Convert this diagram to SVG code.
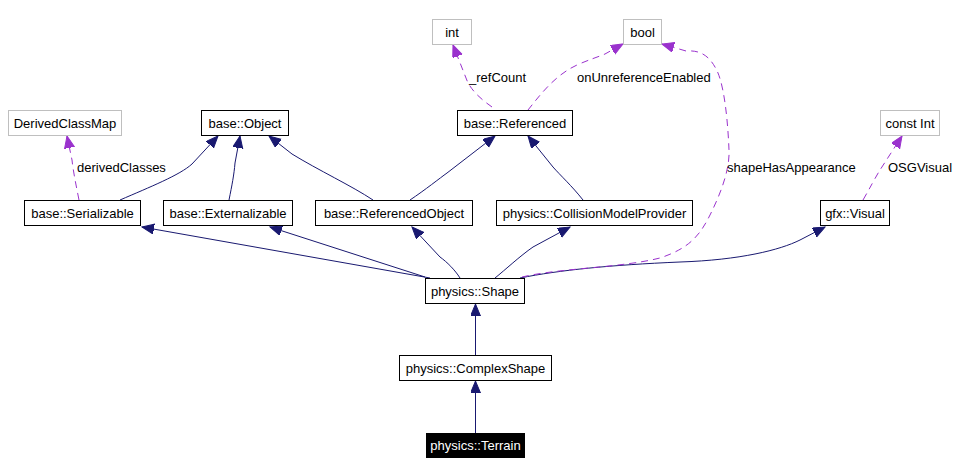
<svg xmlns="http://www.w3.org/2000/svg" width="980" height="475" viewBox="0 0 980 475">
<style>
  .box{fill:#fff;stroke:#000;stroke-width:1}
  .ubox{fill:#fff;stroke:#bfbfbf;stroke-width:1}
  .tbox{fill:#000;stroke:#000;stroke-width:1}
  text{font-family:"Liberation Sans",Arial,sans-serif;font-size:13px;fill:#000}
  .n{text-anchor:middle}
  .w{fill:#fff}
  .inh{fill:none;stroke:#191970;stroke-width:1;marker-end:url(#ah)}
  .use{fill:none;stroke:#9a32cd;stroke-width:1;stroke-dasharray:7,5;marker-end:url(#ap)}
</style>
<defs>
  <marker id="ah" markerUnits="userSpaceOnUse" markerWidth="14" markerHeight="12" refX="12" refY="5" orient="auto">
    <path d="M0,0 L12,5 L0,10 Z" fill="#191970" stroke="#191970" stroke-width="1"/>
  </marker>
  <marker id="ap" markerUnits="userSpaceOnUse" markerWidth="14" markerHeight="12" refX="12" refY="5" orient="auto">
    <path d="M0,0 L12,5 L0,10 Z" fill="#9a32cd" stroke="#9a32cd" stroke-width="1"/>
  </marker>
</defs>
<g id="edges">
  <path class="inh" d="M120,200 C150,187 180,175 192,164 L218,136"/>
  <path class="inh" d="M229,200 C232,185 234,175 235,163 L240,136"/>
  <path class="inh" d="M373,200 C352,186 318,170 292,154 L269,136"/>
  <path class="inh" d="M410,200 C425,190 440,178 447,173 L495,136"/>
  <path class="inh" d="M583,200 C572,186 560,175 553,167 L528,136"/>
  <path class="inh" d="M430,278 L142,227"/>
  <path class="inh" d="M425,277 L270,227"/>
  <path class="inh" d="M460,278 C455,270 447,262 440,257 L412,227"/>
  <path class="inh" d="M495,278 C505,270 520,256 533,247 L570,227"/>
  <path class="inh" d="M520,278 C560,270 610,265 680,262 C740,260 780,250 800,240 L825,227"/>
  <path class="inh" d="M475.5,355 L475.5,304"/>
  <path class="inh" d="M475.5,433 L475.5,381"/>
  <path class="use" d="M492,107 C482,100 470,90 466,78 L453,45"/>
  <path class="use" d="M528,110 C540,95 555,75 577,65 C588,60 598,57 605,54 L623,44"/>
  <path class="use" d="M522,277 C560,268 620,268 660,258 C690,248 700,235 710,215 C720,195 730,170 729,150 C728,125 725,90 718,73 C710,55 700,50 686,51 L662,44"/>
  <path class="use" d="M863,200 C870,188 875,178 880,170 L902,136"/>
  <path class="use" d="M79,200 C76,185 73,170 72,160 L67,136"/>
  <text x="469" y="82">_refCount</text>
  <text x="577" y="82">onUnreferenceEnabled</text>
  <text x="727" y="172">shapeHasAppearance</text>
  <text x="888" y="172">OSGVisual</text>
  <text x="77" y="172">derivedClasses</text>
</g>
<g id="DerivedClassMap"><rect class="ubox" x="8.5" y="110.5" width="113" height="25"/><text class="n" x="65" y="128">DerivedClassMap</text></g>
<g id="base_Object"><rect class="box" x="201.5" y="110.5" width="87" height="25"/><text class="n" x="245" y="128">base::Object</text></g>
<g id="int"><rect class="ubox" x="432.5" y="19.5" width="39" height="25"/><text class="n" x="452" y="37">int</text></g>
<g id="bool"><rect class="ubox" x="623.5" y="19.5" width="38" height="25"/><text class="n" x="642.5" y="37">bool</text></g>
<g id="base_Referenced"><rect class="box" x="457.5" y="110.5" width="115" height="25"/><text class="n" x="515" y="128">base::Referenced</text></g>
<g id="const_Int"><rect class="ubox" x="880.5" y="110.5" width="59" height="25"/><text class="n" x="910" y="128">const Int</text></g>
<g id="base_Serializable"><rect class="box" x="24.5" y="200.5" width="116" height="25"/><text class="n" x="82.5" y="218">base::Serializable</text></g>
<g id="base_Externalizable"><rect class="box" x="163.5" y="200.5" width="129" height="25"/><text class="n" x="228" y="218">base::Externalizable</text></g>
<g id="base_ReferencedObject"><rect class="box" x="315.5" y="200.5" width="157" height="25"/><text class="n" x="394" y="218">base::ReferencedObject</text></g>
<g id="physics_CollisionModelProvider"><rect class="box" x="496.5" y="200.5" width="196" height="25"/><text class="n" x="594.5" y="218">physics::CollisionModelProvider</text></g>
<g id="gfx_Visual"><rect class="box" x="820.5" y="200.5" width="69" height="25"/><text class="n" x="855" y="218">gfx::Visual</text></g>
<g id="physics_Shape"><rect class="box" x="425.5" y="278.5" width="99" height="25"/><text class="n" x="475" y="296">physics::Shape</text></g>
<g id="physics_ComplexShape"><rect class="box" x="399.5" y="355.5" width="152" height="25"/><text class="n" x="475.5" y="373">physics::ComplexShape</text></g>
<g id="physics_Terrain"><rect class="tbox" x="426.5" y="433.5" width="98" height="24"/><text class="n w" x="475.5" y="450">physics::Terrain</text></g>
</svg>
